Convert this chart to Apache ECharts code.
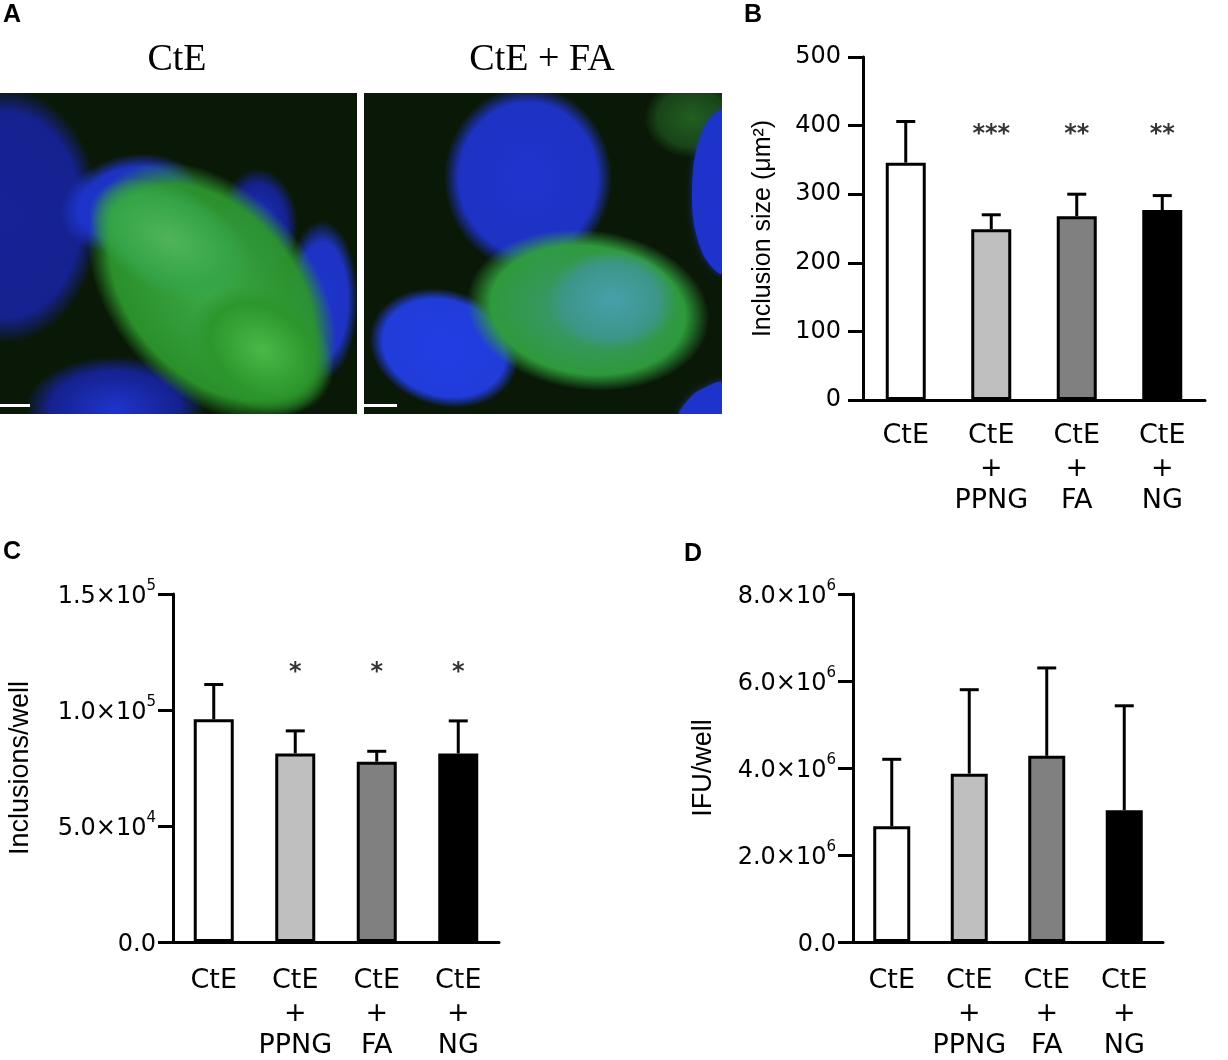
<!DOCTYPE html>
<html>
<head>
    <meta charset="utf-8">
    <title>Inclusion size, inclusions and IFU</title>
    <style>
        html, body { margin: 0; padding: 0; background: #fff; }
        #main { width: 1228px; height: 1060px; }
    </style>
</head>
<body>
    <div id="main"></div>
    <script src="https://cdn.jsdelivr.net/npm/echarts@6/dist/echarts.min.js"></script>
    <script>
        // groups on the x axis
        var categories = ['CtE', 'CtE\n+\nPPNG', 'CtE\n+\nFA', 'CtE\n+\nNG'];

        // B: inclusion size (um2), mean and SD
        var sizeMean = [346, 249, 268, 277];
        var sizeSd = [60, 21, 32, 21];
        var sizeStars = ['', '***', '**', '**'];
        var sizeStarY = 386;

        // C: inclusions per well
        var inclMean = [96000, 81300, 77700, 81300];
        var inclSd = [15000, 9700, 4500, 14000];
        var inclStars = ['', '*', '*', '*'];
        var inclStarY = 116000;

        // D: IFU per well
        var ifuMean = [2660000, 3870000, 4280000, 3030000];
        var ifuSd = [1540000, 1930000, 2020000, 2400000];

        // y ticks
        var sizeTicks = { min: 0, max: 500, interval: 100 };
        var inclTicks = { min: 0, max: 150000, interval: 50000 };
        var ifuTicks = { min: 0, max: 8000000, interval: 2000000 };

        var barColors = ['#ffffff', '#bfbfbf', '#808080', '#000000'];
        var sans = 'DejaVu Sans';

        var chart = echarts.init(document.getElementById('main'), null, { renderer: 'canvas' });

        function sciLabel(v) {
            if (v === 0) return '{b|0.0}';
            var e = Math.floor(Math.log10(v) + 1e-9);
            var m = v / Math.pow(10, e);
            return '{b|' + m.toFixed(1) + '×10}{s|' + e + '}';
        }
        var sciRich = {
            b: { fontSize: 24, lineHeight: 30, verticalAlign: 'bottom', color: '#000', fontFamily: sans },
            s: { fontSize: 15, verticalAlign: 'top', color: '#000', fontFamily: sans }
        };

        function errorBar(params, api) {
            var m = api.value(1), sd = api.value(2);
            var base = api.coord([api.value(0), m]);
            var top = api.coord([api.value(0), m + sd]);
            var hw = 8;
            return {
                type: 'group',
                children: [
                    { type: 'line', shape: { x1: base[0], y1: base[1], x2: top[0], y2: top[1] }, style: { stroke: '#000', lineWidth: 3 } },
                    { type: 'line', shape: { x1: top[0] - hw, y1: top[1], x2: top[0] + hw, y2: top[1] }, style: { stroke: '#000', lineWidth: 3, lineCap: 'square' } }
                ]
            };
        }

        function xAxisFor(idx, margin, fontSize) {
            return {
                type: 'category', gridIndex: idx, data: categories,
                axisLine: { lineStyle: { color: '#000', width: 3 } },
                axisTick: { alignWithLabel: true, length: 13, lineStyle: { color: '#000', width: 3 } },
                axisLabel: { color: '#000', fontSize: fontSize, lineHeight: 32.5, margin: margin, fontFamily: sans, interval: 0 }
            };
        }

        function yAxisFor(idx, ticks, name, nameGap, nameSize, labelMargin, formatter) {
            var ax = {
                type: 'value', gridIndex: idx, min: ticks.min, max: ticks.max, interval: ticks.interval,
                name: name, nameLocation: 'middle', nameGap: nameGap,
                nameTextStyle: { color: '#000', fontSize: nameSize, fontFamily: 'Liberation Sans' },
                axisLine: { show: true, lineStyle: { color: '#000', width: 3 } },
                axisTick: { show: true, length: 15, lineStyle: { color: '#000', width: 3 } },
                splitLine: { show: false },
                axisLabel: { color: '#000', fontSize: 24, margin: labelMargin, fontFamily: sans }
            };
            if (formatter) {
                ax.axisLabel.formatter = formatter;
                ax.axisLabel.rich = sciRich;
            }
            return ax;
        }

        function seriesFor(idx, means, sds, barWidth, stars, starY) {
            var out = [
                {
                    type: 'bar', xAxisIndex: idx, yAxisIndex: idx, data: means, barWidth: barWidth,
                    itemStyle: {
                        color: function (p) { return barColors[p.dataIndex]; },
                        borderColor: '#000', borderWidth: 3
                    },
                    silent: true
                },
                {
                    type: 'custom', xAxisIndex: idx, yAxisIndex: idx, renderItem: errorBar, z: 3,
                    data: means.map(function (m, i) { return [i, m, sds[i]]; }),
                    encode: { x: 0, y: 1 }, silent: true
                }
            ];
            if (stars) {
                out.push({
                    type: 'scatter', xAxisIndex: idx, yAxisIndex: idx, symbolSize: 1,
                    itemStyle: { color: 'rgba(0,0,0,0)' },
                    data: stars.map(function (s, i) { return [i, starY]; }),
                    label: {
                        show: true, position: 'inside', color: '#000', fontSize: 24, fontWeight: 'bold',
                        fontFamily: sans,
                        formatter: function (p) { return stars[p.dataIndex]; }
                    },
                    silent: true
                });
            }
            return out;
        }

        // microscopy panels (A), drawn as soft shapes
        function rgba(c, a) { return 'rgba(' + c[0] + ',' + c[1] + ',' + c[2] + ',' + a + ')'; }
        function softFill(inner, outer, edge) {
            return {
                type: 'radial', x: 0.5, y: 0.5, r: 0.5,
                colorStops: [
                    { offset: 0, color: rgba(inner, 1) },
                    { offset: edge || 0.72, color: rgba(outer, 0.95) },
                    { offset: 1, color: rgba(outer, 0) }
                ]
            };
        }
        // a circle stretched into an ellipse, so the radial fill stretches too
        function blob(cx, cy, rx, ry, inner, outer, rot, edge) {
            return {
                type: 'circle', shape: { cx: cx, cy: cy, r: ry },
                scaleX: rx / ry, scaleY: 1,
                rotation: rot || 0, origin: [cx, cy], z: 1,
                style: { fill: softFill(inner, outer, edge) }
            };
        }
        function edgeShape(points, c) {
            return {
                type: 'polygon', shape: { points: points, smooth: 0.4 }, z: 1,
                style: { fill: rgba(c, 0.95), shadowBlur: 6, shadowColor: rgba(c, 0.8) }
            };
        }
        var bg = '#0a1807';
        var navy = [22, 34, 150], blue = [30, 52, 205], blue2 = [34, 62, 228];
        var green = [44, 150, 44], lgreen = [80, 180, 90], cyan = [70, 160, 170];
        var micro = [
            { type: 'rect', shape: { x: 0, y: 93, width: 357, height: 321 }, style: { fill: bg }, z: 0 },
            blob(5, 215, 95, 128, navy, navy, 0, 0.8),
            blob(130, 203, 72, 48, blue, blue, 0.25),
            blob(258, 226, 40, 58, blue, navy),
            blob(322, 300, 36, 80, blue, blue),
            blob(115, 408, 90, 52, blue, navy),
            blob(212, 292, 150, 100, [60, 168, 72], green, -0.85, 0.82),
            blob(170, 240, 88, 52, lgreen, [52, 165, 72], -0.5),
            blob(262, 350, 78, 58, [72, 185, 72], green, -0.6),

            { type: 'rect', shape: { x: 364, y: 93, width: 358, height: 321 }, style: { fill: bg }, z: 0 },
            blob(692, 118, 48, 40, [35, 95, 35], [25, 70, 25]),
            blob(528, 178, 84, 92, blue, blue, 0, 0.82),
            blob(444, 348, 76, 58, blue2, blue2, -0.3, 0.82),
            edgeShape([[724, 112], [704, 128], [692, 190], [702, 252], [724, 272]], blue),
            edgeShape([[724, 383], [702, 389], [688, 400], [680, 416], [724, 416]], blue),
            blob(588, 310, 122, 80, [62, 150, 130], [48, 160, 62], -0.12, 0.8),
            blob(612, 300, 64, 50, cyan, [62, 150, 140]),

            // trim the soft edges to the frame
            { type: 'rect', shape: { x: 357, y: 72, width: 7, height: 360 }, style: { fill: '#fff' }, z: 5 },
            { type: 'rect', shape: { x: 722, y: 72, width: 20, height: 360 }, style: { fill: '#fff' }, z: 5 },
            { type: 'rect', shape: { x: 0, y: 414, width: 742, height: 60 }, style: { fill: '#fff' }, z: 5 },
            { type: 'rect', shape: { x: 0, y: 74, width: 742, height: 19 }, style: { fill: '#fff' }, z: 5 },
            // scale bars
            { type: 'rect', shape: { x: 0, y: 404, width: 30, height: 3 }, style: { fill: '#fff' }, z: 6 },
            { type: 'rect', shape: { x: 364, y: 404, width: 33, height: 3 }, style: { fill: '#fff' }, z: 6 }
        ];

        var texts = [
            { type: 'text', left: 3, top: 3, z: 10, style: { text: 'A', font: 'bold 25px "Liberation Sans"', fill: '#000' } },
            { type: 'text', left: 744, top: 3, z: 10, style: { text: 'B', font: 'bold 25px "Liberation Sans"', fill: '#000' } },
            { type: 'text', left: 3, top: 540, z: 10, style: { text: 'C', font: 'bold 25px "Liberation Sans"', fill: '#000' } },
            { type: 'text', left: 684, top: 542, z: 10, style: { text: 'D', font: 'bold 25px "Liberation Sans"', fill: '#000' } },
            { type: 'text', x: 177, y: 60, z: 10, style: { text: 'CtE', font: '38px "Liberation Serif"', fill: '#000', textAlign: 'center', textVerticalAlign: 'middle' } },
            { type: 'text', x: 542, y: 60, z: 10, style: { text: 'CtE + FA', font: '38px "Liberation Serif"', fill: '#000', textAlign: 'center', textVerticalAlign: 'middle' } }
        ];

        var option = {
            backgroundColor: '#fff',
            animation: false,
            grid: [
                { left: 863, top: 57, width: 342, height: 343, outerBoundsMode: 'none' },
                { left: 173, top: 594, width: 326, height: 348, outerBoundsMode: 'none' },
                { left: 853, top: 594, width: 310, height: 348, outerBoundsMode: 'none' }
            ],
            xAxis: [
                xAxisFor(0, 20, 27),
                xAxisFor(1, 23, 27),
                xAxisFor(2, 23, 27)
            ],
            yAxis: [
                yAxisFor(0, sizeTicks, 'Inclusion size (μm²)', 87, 25, 22, null),
                yAxisFor(1, inclTicks, 'Inclusions/well', 139, 27, 17, sciLabel),
                yAxisFor(2, ifuTicks, 'IFU/well', 136, 27, 17, sciLabel)
            ],
            series: [].concat(
                seriesFor(0, sizeMean, sizeSd, 40, sizeStars, sizeStarY),
                seriesFor(1, inclMean, inclSd, 40, inclStars, inclStarY),
                seriesFor(2, ifuMean, ifuSd, 37, null, null)
            ),
            graphic: micro.concat(texts)
        };
        chart.setOption(option);
    </script>
</body>
</html>
